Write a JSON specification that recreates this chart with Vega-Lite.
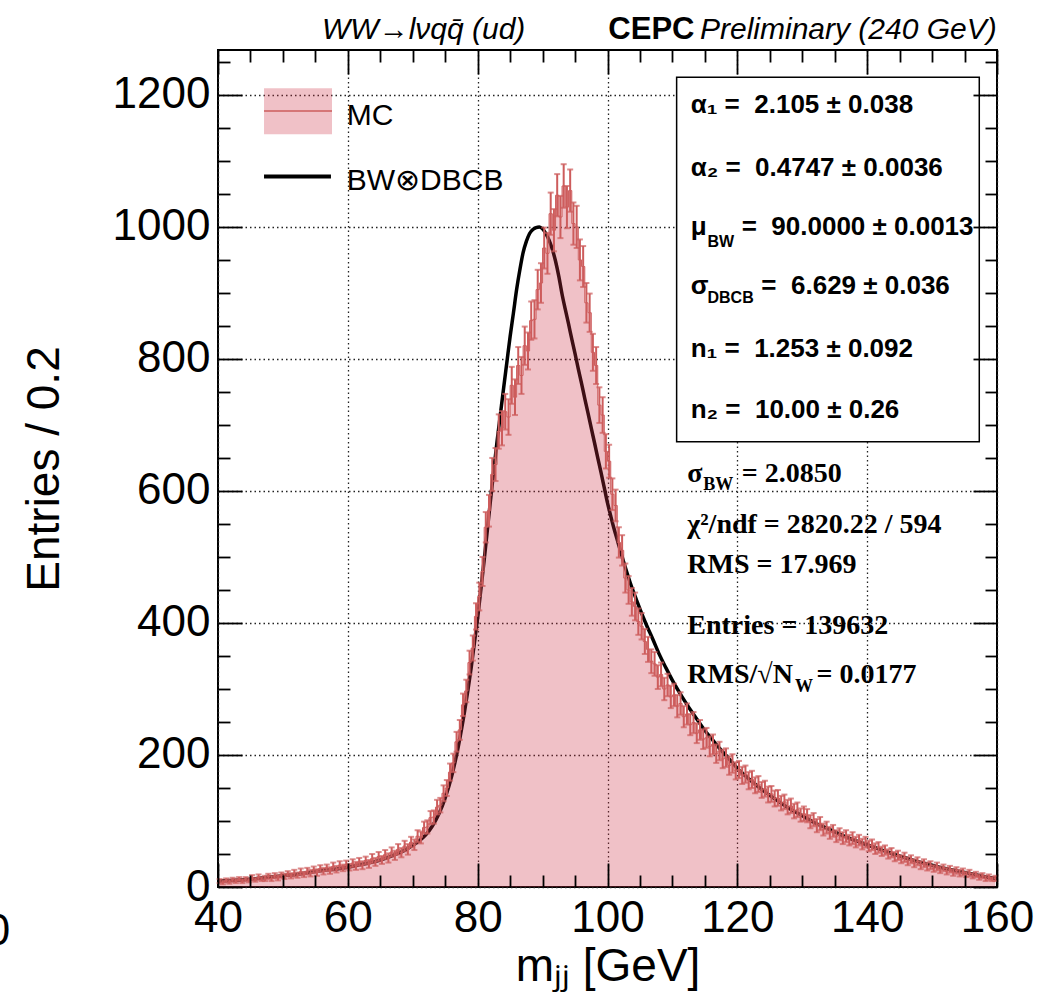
{
"$schema":"https://vega.github.io/schema/vega-lite/v6.json",
"width":779,"height":837,
"autosize":"none",
"padding":{"left":218,"top":50,"right":50,"bottom":115},
"background":"white",
"config":{"view":{"stroke":"black","strokeWidth":2},"text":{"font":"Liberation Sans"}},
"data":{"values":[{}]},
"datasets":{
"hist":[
{"x":40.25,"y":9,"e":3},{"x":40.75,"y":7,"e":3},{"x":41.25,"y":10,"e":3},{"x":41.75,"y":8,"e":3},{"x":42.25,"y":11,"e":3},{"x":42.75,"y":9,"e":3},{"x":43.25,"y":12,"e":3},{"x":43.75,"y":9,"e":3},{"x":44.25,"y":12,"e":3},{"x":44.75,"y":10,"e":3},
{"x":45.25,"y":14,"e":4},{"x":45.75,"y":11,"e":3},{"x":46.25,"y":15,"e":4},{"x":46.75,"y":12,"e":3},{"x":47.25,"y":13,"e":4},{"x":47.75,"y":16,"e":4},{"x":48.25,"y":13,"e":4},{"x":48.75,"y":17,"e":4},{"x":49.25,"y":14,"e":4},{"x":49.75,"y":18,"e":4},
{"x":50.25,"y":16,"e":4},{"x":50.75,"y":20,"e":4},{"x":51.25,"y":17,"e":4},{"x":51.75,"y":21,"e":5},{"x":52.25,"y":18,"e":4},{"x":52.75,"y":23,"e":5},{"x":53.25,"y":19,"e":4},{"x":53.75,"y":24,"e":5},{"x":54.25,"y":21,"e":5},{"x":54.75,"y":26,"e":5},
{"x":55.25,"y":22,"e":5},{"x":55.75,"y":28,"e":5},{"x":56.25,"y":24,"e":5},{"x":56.75,"y":29,"e":5},{"x":57.25,"y":25,"e":5},{"x":57.75,"y":31,"e":6},{"x":58.25,"y":27,"e":5},{"x":58.75,"y":33,"e":6},{"x":59.25,"y":29,"e":5},{"x":59.75,"y":34,"e":6},
{"x":60.25,"y":30,"e":5},{"x":60.75,"y":36,"e":6},{"x":61.25,"y":32,"e":6},{"x":61.75,"y":38,"e":6},{"x":62.25,"y":33,"e":6},{"x":62.75,"y":40,"e":6},{"x":63.25,"y":35,"e":6},{"x":63.75,"y":43,"e":7},{"x":64.25,"y":38,"e":6},{"x":64.75,"y":46,"e":7},
{"x":65.25,"y":41,"e":6},{"x":65.75,"y":49,"e":7},{"x":66.25,"y":44,"e":7},{"x":66.75,"y":53,"e":7},{"x":67.25,"y":48,"e":7},{"x":67.75,"y":57,"e":8},{"x":68.25,"y":52,"e":7},{"x":68.75,"y":62,"e":8},{"x":69.25,"y":57,"e":8},{"x":69.75,"y":68,"e":8},
{"x":70.25,"y":64,"e":8},{"x":70.75,"y":77,"e":9},{"x":71.25,"y":75,"e":9},{"x":71.75,"y":90,"e":9},{"x":72.25,"y":91,"e":10},{"x":72.75,"y":105,"e":10},{"x":73.25,"y":106,"e":10},{"x":73.75,"y":121,"e":11},{"x":74.25,"y":124,"e":11},{"x":74.75,"y":142,"e":12},
{"x":75.25,"y":150,"e":12},{"x":75.75,"y":174,"e":13},{"x":76.25,"y":188,"e":14},{"x":76.75,"y":220,"e":15},{"x":77.25,"y":238,"e":15},{"x":77.75,"y":276,"e":17},{"x":78.25,"y":297,"e":17},{"x":78.75,"y":340,"e":18},{"x":79.25,"y":362,"e":19},{"x":79.75,"y":410,"e":20},
{"x":80.25,"y":440,"e":21},{"x":80.75,"y":478,"e":22},{"x":81.25,"y":545,"e":23},{"x":81.75,"y":570,"e":24},{"x":82.25,"y":625,"e":25},{"x":82.75,"y":640,"e":25},{"x":83.25,"y":690,"e":26},{"x":83.75,"y":695,"e":26},{"x":84.25,"y":720,"e":27},{"x":84.75,"y":712,"e":27},
{"x":85.25,"y":760,"e":28},{"x":85.75,"y":742,"e":27},{"x":86.25,"y":790,"e":28},{"x":86.75,"y":775,"e":28},{"x":87.25,"y":820,"e":29},{"x":87.75,"y":812,"e":28},{"x":88.25,"y":858,"e":29},{"x":88.75,"y":860,"e":29},{"x":89.25,"y":905,"e":30},{"x":89.75,"y":915,"e":30},
{"x":90.25,"y":968,"e":31},{"x":90.75,"y":960,"e":31},{"x":91.25,"y":1020,"e":32},{"x":91.75,"y":995,"e":32},{"x":92.25,"y":1048,"e":32},{"x":92.75,"y":1015,"e":32},{"x":93.25,"y":1062,"e":33},{"x":93.75,"y":1030,"e":32},{"x":94.25,"y":1055,"e":32},{"x":94.75,"y":1005,"e":32},
{"x":95.25,"y":1000,"e":32},{"x":95.75,"y":950,"e":31},{"x":96.25,"y":940,"e":31},{"x":96.75,"y":885,"e":30},{"x":97.25,"y":870,"e":29},{"x":97.75,"y":810,"e":28},{"x":98.25,"y":790,"e":28},{"x":98.75,"y":730,"e":27},{"x":99.25,"y":715,"e":27},{"x":99.75,"y":660,"e":26},
{"x":100.25,"y":645,"e":25},{"x":100.75,"y":595,"e":24},{"x":101.25,"y":578,"e":24},{"x":101.75,"y":522,"e":23},{"x":102.25,"y":510,"e":23},{"x":102.75,"y":468,"e":22},{"x":103.25,"y":450,"e":21},{"x":103.75,"y":432,"e":21},{"x":104.25,"y":425,"e":21},{"x":104.75,"y":402,"e":20},
{"x":105.25,"y":395,"e":20},{"x":105.75,"y":372,"e":19},{"x":106.25,"y":360,"e":19},{"x":106.75,"y":342,"e":18},{"x":107.25,"y":338,"e":18},{"x":107.75,"y":318,"e":18},{"x":108.25,"y":322,"e":18},{"x":108.75,"y":300,"e":17},{"x":109.25,"y":306,"e":17},{"x":109.75,"y":288,"e":17},
{"x":110.25,"y":291,"e":17},{"x":110.75,"y":274,"e":17},{"x":111.25,"y":278,"e":17},{"x":111.75,"y":258,"e":16},{"x":112.25,"y":262,"e":16},{"x":112.75,"y":246,"e":16},{"x":113.25,"y":249,"e":16},{"x":113.75,"y":233,"e":15},{"x":114.25,"y":238,"e":15},{"x":114.75,"y":224,"e":15},
{"x":115.25,"y":226,"e":15},{"x":115.75,"y":213,"e":15},{"x":116.25,"y":216,"e":15},{"x":116.75,"y":202,"e":14},{"x":117.25,"y":206,"e":14},{"x":117.75,"y":194,"e":14},{"x":118.25,"y":196,"e":14},{"x":118.75,"y":184,"e":14},{"x":119.25,"y":187,"e":14},{"x":119.75,"y":176,"e":13},
{"x":120.25,"y":178,"e":13},{"x":120.75,"y":169,"e":13},{"x":121.25,"y":171,"e":13},{"x":121.75,"y":161,"e":13},{"x":122.25,"y":163,"e":13},{"x":122.75,"y":154,"e":12},{"x":123.25,"y":156,"e":12},{"x":123.75,"y":147,"e":12},{"x":124.25,"y":149,"e":12},{"x":124.75,"y":140,"e":12},
{"x":125.25,"y":141,"e":12},{"x":125.75,"y":134,"e":12},{"x":126.25,"y":135,"e":12},{"x":126.75,"y":127,"e":11},{"x":127.25,"y":129,"e":11},{"x":127.75,"y":121,"e":11},{"x":128.25,"y":123,"e":11},{"x":128.75,"y":115,"e":11},{"x":129.25,"y":117,"e":11},{"x":129.75,"y":109,"e":10},
{"x":130.25,"y":111,"e":11},{"x":130.75,"y":108,"e":10},{"x":131.25,"y":99,"e":10},{"x":131.75,"y":102,"e":10},{"x":132.25,"y":93,"e":10},{"x":132.75,"y":96,"e":10},{"x":133.25,"y":87,"e":9},{"x":133.75,"y":90,"e":9},{"x":134.25,"y":82,"e":9},{"x":134.75,"y":85,"e":9},
{"x":135.25,"y":77,"e":9},{"x":135.75,"y":80,"e":9},{"x":136.25,"y":74,"e":9},{"x":136.75,"y":77,"e":9},{"x":137.25,"y":71,"e":8},{"x":137.75,"y":74,"e":9},{"x":138.25,"y":68,"e":8},{"x":138.75,"y":71,"e":8},{"x":139.25,"y":65,"e":8},{"x":139.75,"y":68,"e":8},
{"x":140.25,"y":62,"e":8},{"x":140.75,"y":64,"e":8},{"x":141.25,"y":58,"e":8},{"x":141.75,"y":60,"e":8},{"x":142.25,"y":54,"e":7},{"x":142.75,"y":56,"e":7},{"x":143.25,"y":50,"e":7},{"x":143.75,"y":52,"e":7},{"x":144.25,"y":46,"e":7},{"x":144.75,"y":48,"e":7},
{"x":145.25,"y":42,"e":6},{"x":145.75,"y":45,"e":7},{"x":146.25,"y":39,"e":6},{"x":146.75,"y":42,"e":6},{"x":147.25,"y":36,"e":6},{"x":147.75,"y":39,"e":6},{"x":148.25,"y":33,"e":6},{"x":148.75,"y":36,"e":6},{"x":149.25,"y":31,"e":6},{"x":149.75,"y":33,"e":6},
{"x":150.25,"y":28,"e":5},{"x":150.75,"y":31,"e":6},{"x":151.25,"y":26,"e":5},{"x":151.75,"y":29,"e":5},{"x":152.25,"y":24,"e":5},{"x":152.75,"y":27,"e":5},{"x":153.25,"y":22,"e":5},{"x":153.75,"y":25,"e":5},{"x":154.25,"y":21,"e":5},{"x":154.75,"y":23,"e":5},
{"x":155.25,"y":19,"e":4},{"x":155.75,"y":21,"e":5},{"x":156.25,"y":17,"e":4},{"x":156.75,"y":19,"e":4},{"x":157.25,"y":15,"e":4},{"x":157.75,"y":17,"e":4},{"x":158.25,"y":13,"e":4},{"x":158.75,"y":15,"e":4},{"x":159.25,"y":12,"e":3},{"x":159.75,"y":13,"e":4}
],
"fit":[
{"x":40,"f":9},{"x":42,"f":10},{"x":44,"f":11},{"x":46,"f":13},{"x":48,"f":15},{"x":50,"f":17},{"x":52,"f":19},{"x":54,"f":22},{"x":56,"f":25},{"x":58,"f":27},{"x":60,"f":30},{"x":62,"f":34},{"x":64,"f":38},{"x":66,"f":44},{"x":67,"f":48},{"x":68,"f":52},{"x":69,"f":57},{"x":70,"f":63},{"x":71,"f":70},{"x":72,"f":79},{"x":73,"f":92},{"x":74,"f":110},{"x":75,"f":135},{"x":76,"f":168},{"x":77,"f":212},{"x":78,"f":267},{"x":79,"f":332},{"x":80,"f":408},{"x":81,"f":495},{"x":82,"f":588},{"x":82.5,"f":633},{"x":83,"f":676},{"x":83.5,"f":716},{"x":84,"f":756},{"x":84.5,"f":795},{"x":85,"f":834},{"x":85.5,"f":869},{"x":86,"f":905},{"x":86.5,"f":935},{"x":87,"f":961},{"x":87.5,"f":978},{"x":88,"f":990},{"x":88.5,"f":996},{"x":89,"f":999},{"x":89.5,"f":1000},{"x":90,"f":997},{"x":90.5,"f":990},{"x":91,"f":980},{"x":91.5,"f":966},{"x":92,"f":948},{"x":92.5,"f":925},{"x":93,"f":898},{"x":93.5,"f":875},{"x":94,"f":853},{"x":94.5,"f":830},{"x":95,"f":808},{"x":95.5,"f":785},{"x":96,"f":763},{"x":96.5,"f":740},{"x":97,"f":718},{"x":97.5,"f":695},{"x":98,"f":673},{"x":98.5,"f":650},{"x":99,"f":628},{"x":99.5,"f":605},{"x":100,"f":582},{"x":100.5,"f":562},{"x":101,"f":543},{"x":101.5,"f":526},{"x":102,"f":509},{"x":102.5,"f":492},{"x":103,"f":476},{"x":103.5,"f":461},{"x":104,"f":447},{"x":104.5,"f":434},{"x":105,"f":421},{"x":106,"f":397},{"x":107,"f":375},{"x":108,"f":352},{"x":109,"f":332},{"x":110,"f":313},{"x":111,"f":296},{"x":112,"f":280},{"x":113,"f":265},{"x":114,"f":251},{"x":115,"f":237},{"x":116,"f":225},{"x":117,"f":213},{"x":118,"f":202},{"x":119,"f":191},{"x":120,"f":180},{"x":122,"f":162},{"x":124,"f":146},{"x":126,"f":132},{"x":128,"f":119},{"x":130,"f":108},{"x":132,"f":97},{"x":134,"f":88},{"x":136,"f":79},{"x":138,"f":71},{"x":140,"f":64},{"x":142,"f":57},{"x":144,"f":50},{"x":146,"f":44},{"x":148,"f":38},{"x":150,"f":33},{"x":152,"f":28},{"x":154,"f":24},{"x":156,"f":20},{"x":158,"f":16},{"x":160,"f":13}
]},
"resolve":{"axis":{"x":"independent","y":"independent"}},
"layer":[
{"data":{"name":"fit"},
 "mark":{"type":"line","color":"black","strokeWidth":3.5,"interpolate":"monotone"},
 "encoding":{
  "x":{"field":"x","type":"quantitative","scale":{"domain":[40,160],"nice":false,"zero":false},
   "axis":{"orient":"bottom","values":[40,60,80,100,120,140,160],"ticks":false,"domain":false,"grid":true,"gridColor":"#222222","gridDash":[1.5,3],"gridWidth":1.3,"format":"d","labelFont":"Liberation Sans","labelFontSize":44,"labelColor":"black","labelPadding":9,"labelFlush":false,"labelOverlap":false,"title":"mⱼⱼ [GeV]","titleFont":"Liberation Sans","titleFontSize":46,"titleFontWeight":"normal","titleColor":"black","titlePadding":4,"zindex":0}},
  "y":{"field":"f","type":"quantitative","scale":{"domain":[0,1268],"nice":false,"zero":true},
   "axis":{"orient":"left","values":[0,200,400,600,800,1000,1200],"ticks":false,"domain":false,"grid":true,"gridColor":"#222222","gridDash":[1.5,3],"gridWidth":1.3,"format":"d","labelFont":"Liberation Sans","labelFontSize":44,"labelColor":"black","labelPadding":8,"labelFlush":false,"labelOverlap":false,"title":"Entries / 0.2","titleFont":"Liberation Sans","titleFontSize":46,"titleFontWeight":"normal","titleColor":"black","titlePadding":44,"zindex":0}}}},
{"data":{"name":"hist"},
 "mark":{"type":"area","interpolate":"step","color":"#cc3344","opacity":0.3},
 "encoding":{
  "x":{"field":"x","type":"quantitative","scale":{"domain":[40,160],"nice":false,"zero":false},
   "axis":{"orient":"bottom","values":[40,45,50,55,60,65,70,75,80,85,90,95,100,105,110,115,120,125,130,135,140,145,150,155,160],"labels":false,"grid":false,"domain":false,"title":null,"tickSize":-24,"tickWidth":1.8,"tickColor":"black","tickDash":{"condition":{"test":"datum.value % 20 === 0","value":[30,0]},"value":[12,40]},"zindex":1}},
  "y":{"field":"y","type":"quantitative","stack":null,"scale":{"domain":[0,1268],"nice":false,"zero":true},
   "axis":{"orient":"left","values":[0,50,100,150,200,250,300,350,400,450,500,550,600,650,700,750,800,850,900,950,1000,1050,1100,1150,1200,1250],"labels":false,"grid":false,"domain":false,"title":null,"tickSize":-24,"tickWidth":1.8,"tickColor":"black","tickDash":{"condition":{"test":"datum.value % 200 === 0","value":[30,0]},"value":[12,40]},"zindex":1}}}},
{"data":{"name":"hist"},
 "mark":{"type":"line","interpolate":"step","color":"#cd5c5c","strokeWidth":1},
 "encoding":{
  "x":{"field":"x","type":"quantitative",
   "axis":{"orient":"top","values":[40,45,50,55,60,65,70,75,80,85,90,95,100,105,110,115,120,125,130,135,140,145,150,155,160],"labels":false,"grid":false,"domain":false,"title":null,"tickSize":-24,"tickWidth":1.8,"tickColor":"black","tickDash":{"condition":{"test":"datum.value % 20 === 0","value":[30,0]},"value":[12,40]},"zindex":1}},
  "y":{"field":"y","type":"quantitative",
   "axis":{"orient":"right","values":[0,50,100,150,200,250,300,350,400,450,500,550,600,650,700,750,800,850,900,950,1000,1050,1100,1150,1200,1250],"labels":false,"grid":false,"domain":false,"title":null,"tickSize":-24,"tickWidth":1.8,"tickColor":"black","tickDash":{"condition":{"test":"datum.value % 200 === 0","value":[30,0]},"value":[12,40]},"zindex":1}}}},
{"data":{"name":"hist"},
 "mark":{"type":"errorbar","color":"#cd5c5c","thickness":2,"ticks":{"size":6}},
 "encoding":{"x":{"field":"x","type":"quantitative","axis":null},"y":{"field":"y","type":"quantitative","axis":null},"yError":{"field":"e"}}},
{"mark":{"type":"rect","fill":"white","stroke":"black","strokeWidth":1.5},
 "encoding":{"x":{"datum":110.65,"type":"quantitative","axis":null},"x2":{"datum":157.27},"y":{"datum":674.7,"type":"quantitative","axis":null},"y2":{"datum":1226.8}}},
{"mark":{"type":"rect","fill":"#cc3344","fillOpacity":0.3},
 "encoding":{"x":{"datum":47.09,"type":"quantitative","axis":null},"x2":{"datum":57.56},"y":{"datum":1140.4,"type":"quantitative","axis":null},"y2":{"datum":1210}}},
{"mark":{"type":"rule","color":"#cd5c5c","strokeWidth":1.5},
 "encoding":{"x":{"datum":47.09,"type":"quantitative","axis":null},"x2":{"datum":57.56},"y":{"datum":1175.7,"type":"quantitative","axis":null}}},
{"mark":{"type":"rule","color":"black","strokeWidth":4},
 "encoding":{"x":{"datum":47.09,"type":"quantitative","axis":null},"x2":{"datum":57.4},"y":{"datum":1076.2,"type":"quantitative","axis":null}}},
{"mark":{"type":"text","text":"MC","align":"left","baseline":"alphabetic","font":"Liberation Sans","fontSize":30},
 "encoding":{"x":{"datum":59.83,"type":"quantitative","axis":null},"y":{"datum":1154.5,"type":"quantitative","axis":null}}},
{"mark":{"type":"text","text":"BW⊗DBCB","align":"left","baseline":"alphabetic","font":"Liberation Sans","fontSize":30},
 "encoding":{"x":{"datum":59.83,"type":"quantitative","axis":null},"y":{"datum":1056,"type":"quantitative","axis":null}}},
{"mark":{"type":"text","text":"WW→lνqq̄ (ud)","align":"left","baseline":"alphabetic","font":"Liberation Sans","fontSize":30,"fontStyle":"italic"},
 "encoding":{"x":{"datum":56.02,"type":"quantitative","axis":null},"y":{"datum":1284.8,"type":"quantitative","axis":null}}},
{"mark":{"type":"text","text":"CEPC","align":"right","baseline":"alphabetic","font":"Liberation Sans","fontSize":31,"fontWeight":"bold"},
 "encoding":{"x":{"datum":113.4,"type":"quantitative","axis":null},"y":{"datum":1284.8,"type":"quantitative","axis":null}}},
{"mark":{"type":"text","text":"Preliminary (240 GeV)","align":"left","baseline":"alphabetic","font":"Liberation Sans","fontSize":30,"fontStyle":"italic"},
 "encoding":{"x":{"datum":114.25,"type":"quantitative","axis":null},"y":{"datum":1284.8,"type":"quantitative","axis":null}}},
{"mark":{"type":"text","text":"α₁ = \u00a02.105 ± 0.038","align":"left","baseline":"alphabetic","font":"Liberation Sans","fontSize":26,"fontWeight":"bold"},
 "encoding":{"x":{"datum":112.81,"type":"quantitative","axis":null},"y":{"datum":1172.3,"type":"quantitative","axis":null}}},
{"mark":{"type":"text","text":"α₂ = \u00a00.4747 ± 0.0036","align":"left","baseline":"alphabetic","font":"Liberation Sans","fontSize":26,"fontWeight":"bold"},
 "encoding":{"x":{"datum":112.81,"type":"quantitative","axis":null},"y":{"datum":1077.3,"type":"quantitative","axis":null}}},
{"mark":{"type":"text","text":"μ","align":"left","baseline":"alphabetic","font":"Liberation Sans","fontSize":26,"fontWeight":"bold"},
 "encoding":{"x":{"datum":112.81,"type":"quantitative","axis":null},"y":{"datum":987.9,"type":"quantitative","axis":null}}},
{"mark":{"type":"text","text":"BW","align":"left","baseline":"alphabetic","font":"Liberation Sans","fontSize":16,"fontWeight":"bold"},
 "encoding":{"x":{"datum":115.4,"type":"quantitative","axis":null},"y":{"datum":970.2,"type":"quantitative","axis":null}}},
{"mark":{"type":"text","text":"= \u00a090.0000 ± 0.0013","align":"left","baseline":"alphabetic","font":"Liberation Sans","fontSize":26,"fontWeight":"bold"},
 "encoding":{"x":{"datum":120.67,"type":"quantitative","axis":null},"y":{"datum":987.9,"type":"quantitative","axis":null}}},
{"mark":{"type":"text","text":"σ","align":"left","baseline":"alphabetic","font":"Liberation Sans","fontSize":26,"fontWeight":"bold"},
 "encoding":{"x":{"datum":112.81,"type":"quantitative","axis":null},"y":{"datum":898.5,"type":"quantitative","axis":null}}},
{"mark":{"type":"text","text":"DBCB","align":"left","baseline":"alphabetic","font":"Liberation Sans","fontSize":16,"fontWeight":"bold"},
 "encoding":{"x":{"datum":115.4,"type":"quantitative","axis":null},"y":{"datum":884.4,"type":"quantitative","axis":null}}},
{"mark":{"type":"text","text":"= \u00a06.629 ± 0.036","align":"left","baseline":"alphabetic","font":"Liberation Sans","fontSize":26,"fontWeight":"bold"},
 "encoding":{"x":{"datum":123.7,"type":"quantitative","axis":null},"y":{"datum":898.5,"type":"quantitative","axis":null}}},
{"mark":{"type":"text","text":"n₁ = \u00a01.253 ± 0.092","align":"left","baseline":"alphabetic","font":"Liberation Sans","fontSize":26,"fontWeight":"bold"},
 "encoding":{"x":{"datum":112.81,"type":"quantitative","axis":null},"y":{"datum":803,"type":"quantitative","axis":null}}},
{"mark":{"type":"text","text":"n₂ = \u00a010.00 ± 0.26","align":"left","baseline":"alphabetic","font":"Liberation Sans","fontSize":26,"fontWeight":"bold"},
 "encoding":{"x":{"datum":112.81,"type":"quantitative","axis":null},"y":{"datum":710.6,"type":"quantitative","axis":null}}},
{"mark":{"type":"text","text":"σ","align":"left","baseline":"alphabetic","font":"Liberation Serif","fontSize":28,"fontWeight":"bold"},
 "encoding":{"x":{"datum":112.29,"type":"quantitative","axis":null},"y":{"datum":614.1,"type":"quantitative","axis":null}}},
{"mark":{"type":"text","text":"BW","align":"left","baseline":"alphabetic","font":"Liberation Serif","fontSize":18,"fontWeight":"bold"},
 "encoding":{"x":{"datum":114.76,"type":"quantitative","axis":null},"y":{"datum":601.5,"type":"quantitative","axis":null}}},
{"mark":{"type":"text","text":"= 2.0850","align":"left","baseline":"alphabetic","font":"Liberation Serif","fontSize":28,"fontWeight":"bold"},
 "encoding":{"x":{"datum":120.67,"type":"quantitative","axis":null},"y":{"datum":614.1,"type":"quantitative","axis":null}}},
{"mark":{"type":"text","text":"χ²/ndf = 2820.22 / 594","align":"left","baseline":"alphabetic","font":"Liberation Serif","fontSize":28,"fontWeight":"bold"},
 "encoding":{"x":{"datum":112.29,"type":"quantitative","axis":null},"y":{"datum":535.9,"type":"quantitative","axis":null}}},
{"mark":{"type":"text","text":"RMS = 17.969","align":"left","baseline":"alphabetic","font":"Liberation Serif","fontSize":28,"fontWeight":"bold"},
 "encoding":{"x":{"datum":112.29,"type":"quantitative","axis":null},"y":{"datum":475.3,"type":"quantitative","axis":null}}},
{"mark":{"type":"text","text":"Entries = 139632","align":"left","baseline":"alphabetic","font":"Liberation Serif","fontSize":28,"fontWeight":"bold"},
 "encoding":{"x":{"datum":112.29,"type":"quantitative","axis":null},"y":{"datum":382.9,"type":"quantitative","axis":null}}},
{"mark":{"type":"text","text":"RMS/√N","align":"left","baseline":"alphabetic","font":"Liberation Serif","fontSize":28,"fontWeight":"bold"},
 "encoding":{"x":{"datum":112.29,"type":"quantitative","axis":null},"y":{"datum":308.6,"type":"quantitative","axis":null}}},
{"mark":{"type":"text","text":"W","align":"left","baseline":"alphabetic","font":"Liberation Serif","fontSize":18,"fontWeight":"bold"},
 "encoding":{"x":{"datum":128.9,"type":"quantitative","axis":null},"y":{"datum":295.9,"type":"quantitative","axis":null}}},
{"mark":{"type":"text","text":"= 0.0177","align":"left","baseline":"alphabetic","font":"Liberation Serif","fontSize":28,"fontWeight":"bold"},
 "encoding":{"x":{"datum":132.2,"type":"quantitative","axis":null},"y":{"datum":308.6,"type":"quantitative","axis":null}}},
{"mark":{"type":"text","text":"0","align":"center","baseline":"alphabetic","font":"Liberation Sans","fontSize":44},
 "encoding":{"x":{"datum":6.11,"type":"quantitative","axis":null},"y":{"datum":-87.9,"type":"quantitative","axis":null}}}
]
}
